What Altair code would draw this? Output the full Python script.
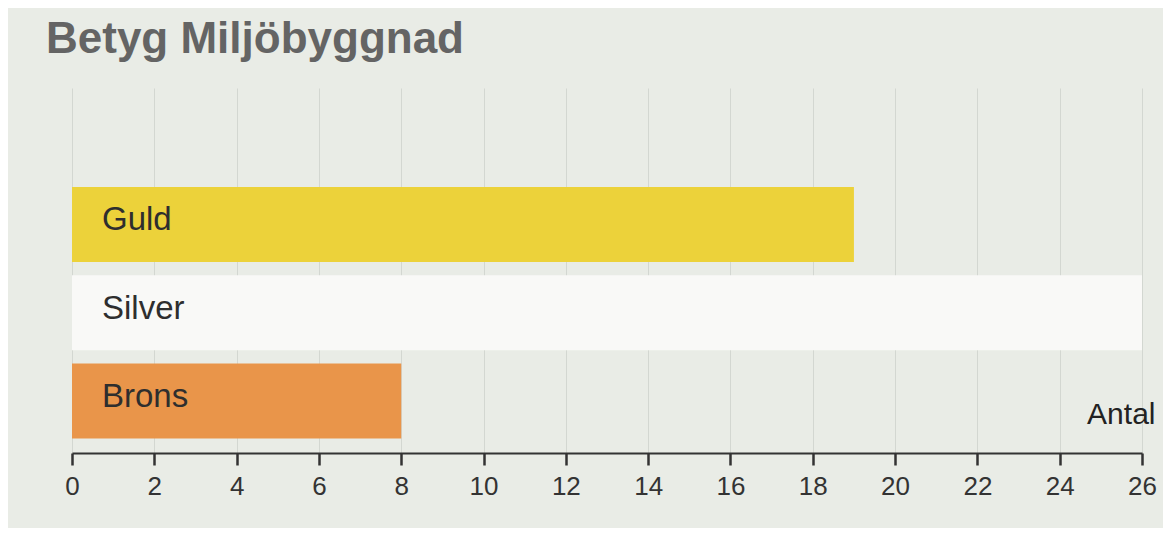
import altair as alt
import pandas as pd

categories = ["Guld", "Silver", "Brons"]
values = [19, 26, 8]
colors = ["#ecd23a", "#f9f9f7", "#e9954a"]
ticks = list(range(0, 27, 2))

df = pd.DataFrame({"betyg": categories, "antal": values, "farg": colors})

y = alt.Y("betyg:N", sort=categories, axis=None,
          scale=alt.Scale(paddingInner=0.15, paddingOuter=0.643, align=0.872))

bars = alt.Chart(df).mark_bar(cornerRadius=0).encode(
    x=alt.X("antal:Q",
            scale=alt.Scale(domain=[0, 26], nice=False),
            axis=alt.Axis(values=ticks, title="Antal", titleAngle=0,
                          titleX=1083, titleY=-30, titleAlign="right",
                          titleBaseline="alphabetic", titleFontSize=30,
                          titleFontWeight="normal", titleColor="#222222",
                          titleFont="Liberation Sans",
                          labelFont="Liberation Sans", labelFontSize=26,
                          labelColor="#333333", labelPadding=8,
                          domainColor="#333333", domainWidth=2,
                          tickColor="#333333", tickWidth=2.5, tickSize=12,
                          grid=True, gridColor="#d3d7d1", gridWidth=1,
                          labelFlush=False)),
    y=y,
    color=alt.Color("farg:N", scale=None),
)

labels = alt.Chart(df).mark_text(align="left", baseline="middle", dx=30, dy=-4,
                                 font="Liberation Sans", fontSize=33,
                                 color="#2e2e2e").encode(
    x=alt.datum(0),
    y=y,
    text="betyg:N",
)

chart = (bars + labels).properties(
    width=1070, height=365,
    padding={"left": 64, "top": 80, "right": 21, "bottom": 75},
    autosize=alt.AutoSizeParams(type="none"),
    background="#e9ece6",
    title=alt.TitleParams("Betyg Miljöbyggnad", anchor="start", dx=-26, dy=41,
                          frame="group", offset=32, baseline="alphabetic",
                          font="Liberation Sans", fontSize=44,
                          fontWeight="bold", color="#646464"),
).configure_view(stroke=None)

chart.save("out.html", embed_options={"renderer": "svg", "actions": False})
